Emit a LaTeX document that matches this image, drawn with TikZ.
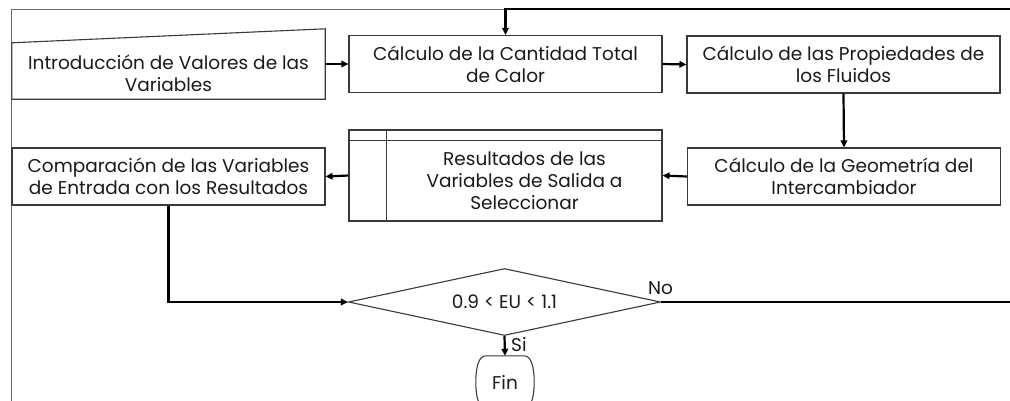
\documentclass[tikz,border=0pt]{standalone}
\usepackage{fontspec}
\setmainfont{Poppins}
\usetikzlibrary{shapes.geometric,arrows.meta,calc}
\definecolor{boxgray}{HTML}{3A3A3A}
\definecolor{txt}{HTML}{1A1A1A}
\definecolor{framegray}{HTML}{6A6A6A}
\newcommand{\mytext}{\fontsize{18.5}{22}\selectfont}
\begin{document}
\begin{tikzpicture}[x=1pt,y=-1pt,
  box/.style={draw=boxgray, line width=1.1pt, minimum width=313pt, minimum height=57pt, inner sep=0pt, align=center, font=\mytext, text=txt},
  plain/.style={inner sep=0pt, align=center, font=\mytext, text=txt},
  conn/.style={line width=2.2pt, -{Triangle[length=7pt,width=6.5pt]}},
  outline/.style={draw=boxgray, line width=1.1pt}]
\useasboundingbox (0,0) rectangle (1010,400);
\clip (0,0) rectangle (1010,400);
\fill[white] (0,0) rectangle (1010,400);
% frame
\draw[framegray, line width=1pt] (11,402) -- (11,9) -- (506,9);
% input (manual input shape)
\node[minimum width=313pt, minimum height=70pt, inner sep=0pt] (inp) at (168.5,64) {};
\draw[outline] (inp.south west) -- (inp.south east) -- (inp.north east) -- ($(inp.north west)+(0,14)$) -- cycle;
\node[plain] (inptext) at (168.5,73) {Introducción de Valores de las\\Variables};
% process boxes
\node[box] (calc) at (505.5,64) {Cálculo de la Cantidad Total\\de Calor};
\node[box] (prop) at (843.5,64.5) {Cálculo de las Propiedades de\\los Fluidos};
\node[box] (geo) at (844,176.5) {Cálculo de la Geometría del\\Intercambiador};
\node[box] (comp) at (168.5,176.5) {Comparación de las Variables\\de Entrada con los Resultados};
% internal storage
\node[box, minimum height=91pt] (res) at (505.5,175.5) {};
\draw[outline] ($(res.north west)+(0,11)$) -- ($(res.north east)+(0,11)$);
\draw[outline] ($(res.north west)+(38,0)$) -- ($(res.south west)+(38,0)$);
\node[plain] (restext) at (524.5,181) {Resultados de las\\Variables de Salida a\\Seleccionar};
% decision
\node[draw=boxgray, line width=1.1pt, diamond, aspect=4.6, minimum width=312pt, minimum height=67pt, inner sep=0pt, font=\mytext, text=txt] (dec) at (504.5,302) {0.9 < EU < 1.1};
% end (terminator with bulging sides)
\node[minimum width=58pt, minimum height=52pt, inner sep=0pt, font=\mytext, text=txt] (fin) at (505,382) {Fin};
\draw[outline] ($(fin.north west)+(10,0)$) -- ($(fin.north east)+(-10,0)$)
  .. controls +(7,0) and +(0,-15) .. (fin.east)
  .. controls +(0,15) and +(7,0) .. ($(fin.south east)+(-10,0)$)
  -- ($(fin.south west)+(10,0)$)
  .. controls +(-7,0) and +(0,15) .. (fin.west)
  .. controls +(0,-15) and +(-7,0) .. cycle;
% connectors
\coordinate (loopR) at (1013,302);
\coordinate (loopT) at (1013,9);
\draw[conn] (calc.west -| inp.east) -- (calc.west);
\draw[conn] (calc.east) -- (prop.west);
\draw[conn] (prop.south) -- (geo.north);
\draw[conn] (geo.west) -- (res.east);
\draw[conn] (res.west) -- (comp.east);
\draw[conn] (comp.south) |- (dec.west);
\draw[conn] (dec.south) -- (fin.north);
\draw[conn] (dec.east) -- (loopR) -- (loopT) -- (calc.north |- loopT) -- (calc.north);
% labels
\node[plain, anchor=south west] (nolbl) at (648,295) {No};
\node[plain, anchor=west] (silbl) at (511,345) {Si};
\end{tikzpicture}
\end{document}
